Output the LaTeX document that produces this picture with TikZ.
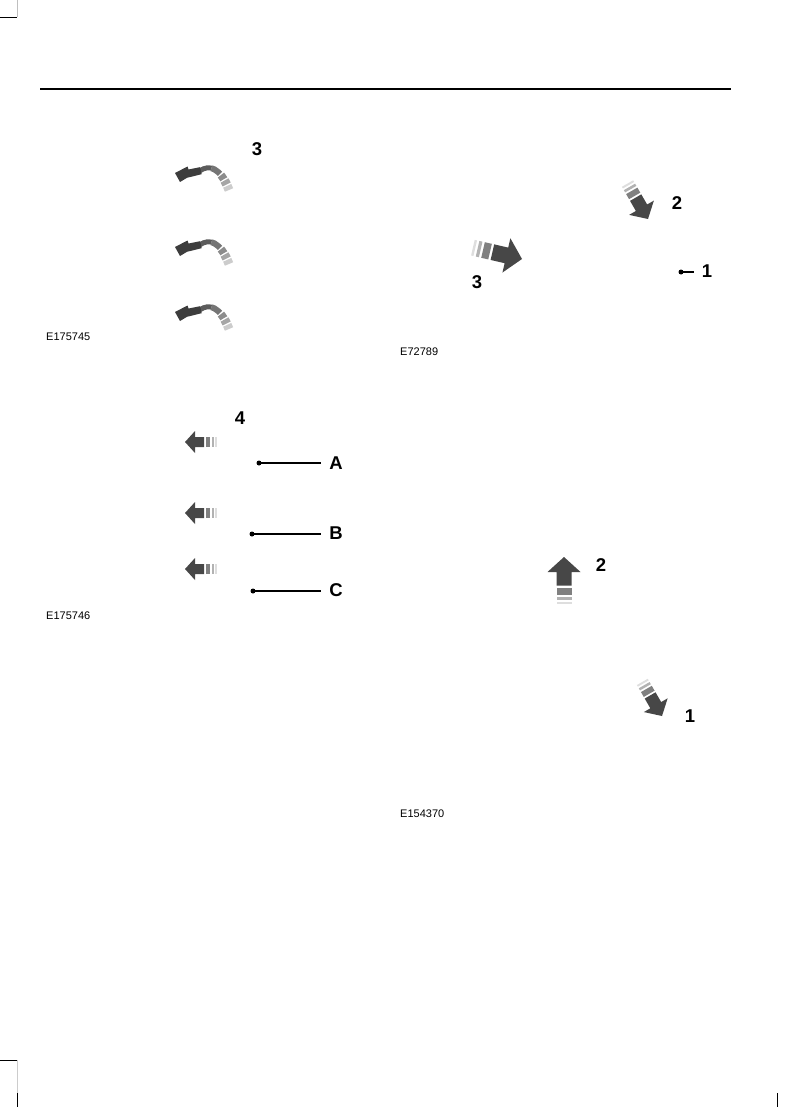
\documentclass[tikz,border=0pt]{standalone}
\usepackage{fontspec}
\setmainfont{Liberation Sans}
\begin{document}
\begin{tikzpicture}[x=1pt,y=-1pt,
  lab/.style={font=\fontsize{18.5}{18.5}\selectfont\bfseries, inner sep=0pt},
  code/.style={font=\fontsize{11}{11}\selectfont, inner sep=0pt, anchor=west},
  dotn/.style={circle, fill=black, inner sep=0pt, minimum size=5pt},
  leader/.style={line width=1.1pt, shorten >=8pt},
  crop/.style={line width=0.8pt},
  sarrow/.pic={
    \fill[black!72] (0,0) -- (-10,-11) -- (-10,-5) -- (-19,-5) -- (-19,5) -- (-10,5) -- (-10,11) -- cycle;
    \fill[black!50] (-20.5,-5) rectangle (-25,5);
    \fill[black!30] (-26.5,-5) rectangle (-28.5,5);
    \fill[black!13] (-30,-5) rectangle (-31.5,5);
  },
  curvseg/.style={line cap=butt},
  curv/.pic={
    \def\crv{(25,-2.3) .. controls (34,-8.5) and (45,-6) .. (54,17)}
    \draw[curvseg, line width=5pt, black!64, dash pattern=on 12pt off 100pt] \crv;
    \draw[curvseg, line width=6pt, black!54, dash pattern=on 0pt off 12pt on 10.5pt off 100pt] \crv;
    \draw[curvseg, line width=8pt, black!45, dash pattern=on 0pt off 24pt on 5pt off 100pt] \crv;
    \draw[curvseg, line width=9pt, black!35, dash pattern=on 0pt off 30.5pt on 4.5pt off 100pt] \crv;
    \draw[curvseg, line width=9pt, black!20, dash pattern=on 0pt off 36.5pt on 8pt off 100pt] \crv;
    \fill[black!76] (0,0) -- (12.5,-6.5) -- (13.5,-3.5) -- (25,-5.8) -- (26.7,1.2) -- (12,4.8) -- (5,9) -- cycle;
  }]
\useasboundingbox (0,0) rectangle (795,1107);

% page furniture
\draw[line width=1.2pt] (40,89) -- (731,89);
\draw[crop] (0,17) -- (17,17);
\draw[crop, black!25] (17,0) -- (17,17);
\draw[crop] (0,1060) -- (17,1060);
\draw[crop, black!20] (17,1060) -- (17,1107);
\draw[crop] (17,1093) -- (17,1107);
\draw[crop] (777,1093) -- (777,1107);

% figure E175745
\pic (cv1) at (175,173) {curv};
\pic (cv2) at (175,247) {curv};
\pic (cv3) at (175,312) {curv};
\node[lab] (n3a) at (257,149) {3};
\node[code] (e1) at (46,337) {E175745};

% figure E175746
\pic[rotate=180] (la1) at (185,442) {sarrow};
\pic[rotate=180] (la2) at (185,513) {sarrow};
\pic[rotate=180] (la3) at (185,569) {sarrow};
\node[lab] (n4) at (240,418) {4};
\node[dotn] (dA) at (259,463) {};
\node[dotn] (dB) at (252,534) {};
\node[dotn] (dC) at (253,591) {};
\node[lab] (lA) at (336,463) {A};
\node[lab] (lB) at (336,533) {B};
\node[lab] (lC) at (336,590) {C};
\draw[leader] (dA.center) -- (lA.west |- dA);
\draw[leader] (dB.center) -- (lB.west |- dB);
\draw[leader] (dC.center) -- (lC.west |- dC);
\node[code] (e2) at (46,616) {E175746};

% figure E72789
\pic[rotate=-60, scale=1.3] (ra2) at (648,219) {sarrow};
\pic[rotate=-13, scale=1.6] (ra3) at (522,259) {sarrow};
\node[lab] (n2b) at (677,203) {2};
\node[lab] (n3b) at (477,282) {3};
\node[dotn] (d1) at (681,272) {};
\node[lab] (n1b) at (707,271) {1};
\draw[line width=1.1pt, shorten >=8pt] (d1.center) -- (n1b.west |- d1);
\node[code] (e3) at (400,352) {E72789};

% figure E154370
\pic[rotate=90, scale=1.5] (ua) at (564,557) {sarrow};
\node[lab] (n2c) at (601,565) {2};
\pic[rotate=-60, scale=1.25] (da) at (662,716) {sarrow};
\node[lab] (n1c) at (690,716) {1};
\node[code] (e4) at (400,814) {E154370};
\end{tikzpicture}
\end{document}
